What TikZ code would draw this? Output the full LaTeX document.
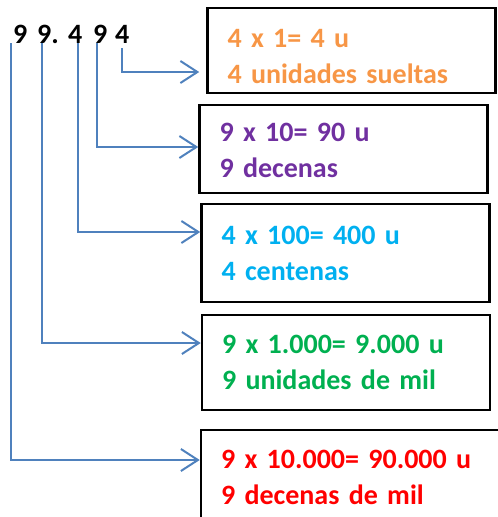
\documentclass[tikz,border=0pt]{standalone}
\usepackage{fontspec}
\setmainfont{Carlito}
\usepackage{tikz}
\usetikzlibrary{arrows.meta,positioning,calc}

\definecolor{unidOr}{HTML}{F79646}
\definecolor{decPur}{HTML}{7030A0}
\definecolor{cenBlu}{HTML}{00B0F0}
\definecolor{milGre}{HTML}{00B050}
\definecolor{dmRed}{HTML}{FF0000}
\definecolor{linkBlu}{HTML}{4F81BD}

\tikzset{
  digit/.style={font=\fontsize{28}{36}\selectfont\bfseries, inner sep=0pt, anchor=base west},
  box/.style={draw, line width=2.5, align=left, text width=248pt, inner xsep=20pt,
    minimum width=288pt, font=\fontsize{28}{36}\selectfont\bfseries},
  link/.style={draw=linkBlu, line width=2, -{Straight Barb[length=17pt,width=22pt]}}
}

\begin{document}
\begin{tikzpicture}[x=1pt,y=-1pt]
\clip (0,0) rectangle (498,517);

% The number, digit by digit
\foreach \x/\d [count=\i] in {13/9, 37/{9.}, 68/4, 93/9, 115/4} {
    \node[digit] (n\i) at (\x,43) {\d};
}

% Where the lines leave the digits
\coordinate (c1) at (11,43);
\coordinate (c2) at (41.5,43);
\coordinate (c3) at (77.5,43);
\coordinate (c4) at (96.5,43);
\coordinate (c5) at (121.5,48);

% Boxes with the values
\node[box, text=unidOr, minimum height=85] (b1) at (351.5,50.5) {\rule{0pt}{30pt}4 x 1= 4 u\\4 unidades sueltas};
\node[box, text=decPur, minimum height=88] (b2) at (343.5,149) {\rule{0pt}{21pt}9 x 10= 90 u\\9 decenas};
\node[box, text=cenBlu, minimum height=98] (b3) at (345.5,253) {4 x 100= 400 u\\4 centenas};
\node[box, text=milGre, minimum height=95] (b4) at (346,362.5) {9 x 1.000= 9.000 u\\9 unidades de mil};
\node[box, text=dmRed, text width=300pt, minimum width=340, minimum height=94] (b5) at (371,477) {9 x 10.000= 90.000 u\\9 decenas de mil};

% Lines from the digits to the boxes
\draw[link] (c5) |- ([xshift=-7]b1.west |- 0,72);
\draw[link] (c4) |- (b2.west |- 0,147);
\draw[link] (c3) |- (b3.west |- 0,232);
\draw[link] (c2) |- (b4.west |- 0,343);
\draw[link] (c1) |- (b5.west |- 0,460);

\end{tikzpicture}
\end{document}
